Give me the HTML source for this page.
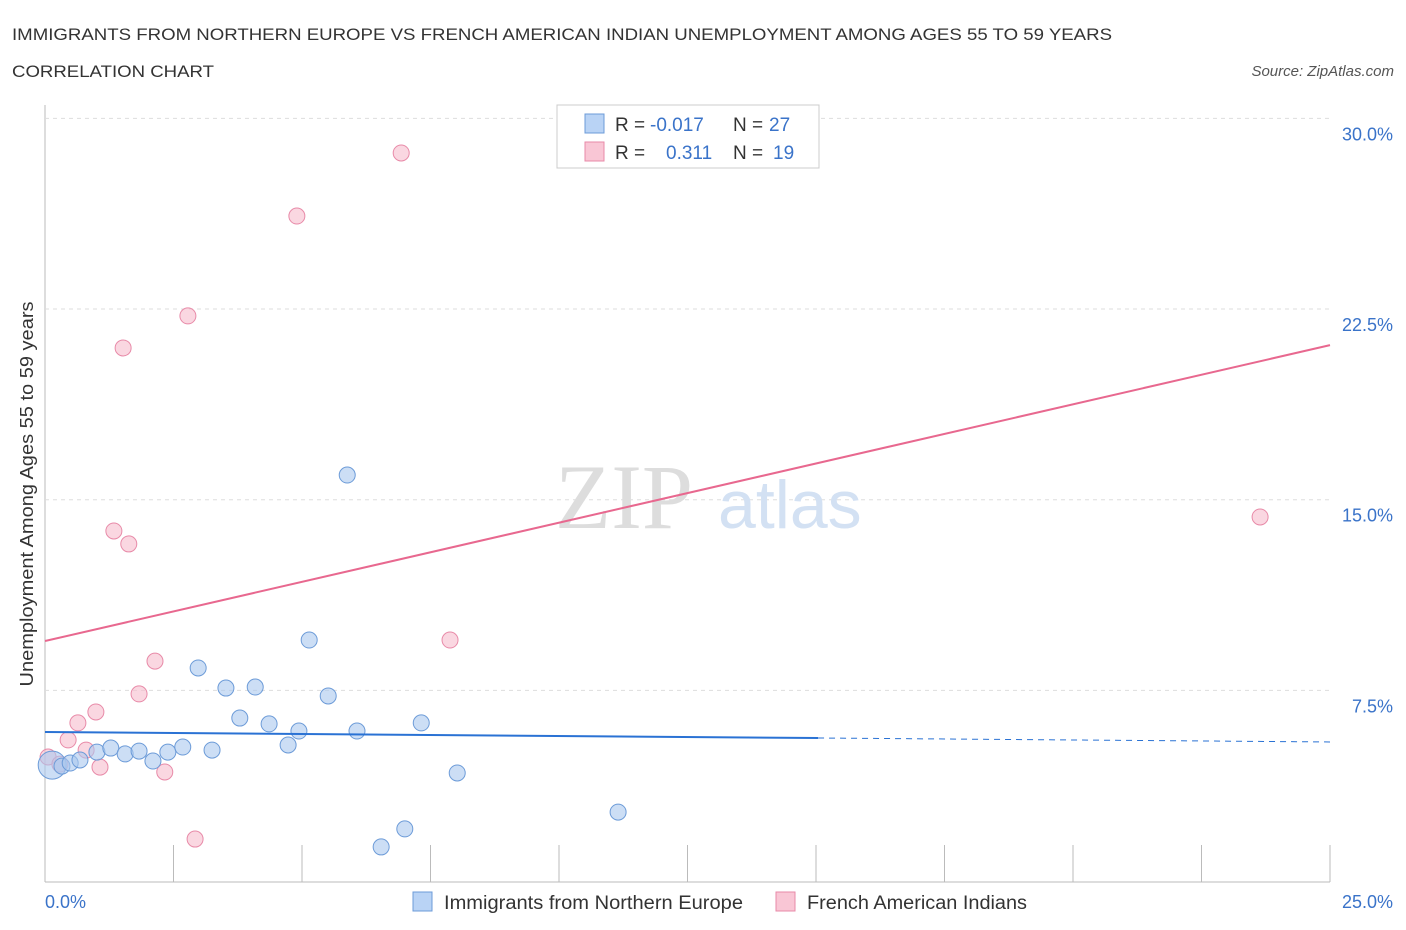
<!DOCTYPE html>
<html><head><meta charset="utf-8"><style>
body{margin:0;background:#fff;font-family:"Liberation Sans",sans-serif;}
svg{display:block}
</style></head><body>
<svg id="c" width="1406" height="930">
<text x="12" y="40" font-size="17" fill="#333" textLength="1100" lengthAdjust="spacingAndGlyphs">IMMIGRANTS FROM NORTHERN EUROPE VS FRENCH AMERICAN INDIAN UNEMPLOYMENT AMONG AGES 55 TO 59 YEARS</text>
<text x="12" y="77" font-size="17" fill="#333" textLength="202" lengthAdjust="spacingAndGlyphs">CORRELATION CHART</text>
<text x="1394" y="76" font-size="15" fill="#555" font-style="italic" text-anchor="end">Source: ZipAtlas.com</text>
<text x="33" y="494" font-size="18" fill="#333" text-anchor="middle" transform="rotate(-90 33 494)" textLength="385" lengthAdjust="spacingAndGlyphs">Unemployment Among Ages 55 to 59 years</text>
<g id="grid"></g>
<text x="555" y="528" font-size="92" fill="#ddd" font-family="Liberation Serif,serif">ZIP</text>
<text x="718" y="528" font-size="68" fill="#d3e1f3">atlas</text>
<g id="marks"></g>
<g>
<rect x="557" y="105" width="262" height="63" fill="#fff" stroke="#ccc"/>
<rect x="585" y="114" width="19" height="19" fill="#b9d3f5" stroke="#6c9bd8"/>
<text x="615" y="131" font-size="19" fill="#333">R =</text>
<text x="650" y="131" font-size="19" fill="#3a73c9">-0.017</text>
<text x="733" y="131" font-size="19" fill="#333">N =</text>
<text x="769" y="131" font-size="19" fill="#3a73c9">27</text>
<rect x="585" y="142" width="19" height="19" fill="#f9c6d5" stroke="#e88aa8"/>
<text x="615" y="159" font-size="19" fill="#333">R =</text>
<text x="666" y="159" font-size="19" fill="#3a73c9">0.311</text>
<text x="733" y="159" font-size="19" fill="#333">N =</text>
<text x="773" y="159" font-size="19" fill="#3a73c9">19</text>
</g>
<g>
<rect x="413" y="892" width="19" height="19" fill="#b9d3f5" stroke="#6c9bd8"/>
<text x="444" y="909" font-size="19" fill="#333" textLength="299" lengthAdjust="spacingAndGlyphs">Immigrants from Northern Europe</text>
<rect x="776" y="892" width="19" height="19" fill="#f9c6d5" stroke="#e88aa8"/>
<text x="807" y="909" font-size="19" fill="#333" textLength="220" lengthAdjust="spacingAndGlyphs">French American Indians</text>
</g>
</svg>
<script>
const blueX=[0.14,0.33,0.49,0.68,1.01,1.28,1.56,1.83,2.10,2.39,2.68,2.98,3.25,3.52,3.79,4.09,4.36,4.73,4.94,5.14,5.51,5.88,6.07,6.54,7.00,7.32,8.02,11.15];
const blueY=[4.56,4.52,4.64,4.76,5.07,5.23,5.0,5.11,4.72,5.07,5.27,8.38,5.15,7.59,6.41,7.63,6.18,5.35,5.90,9.48,7.28,15.97,5.90,1.34,2.05,6.22,4.25,2.71];
const pinkX=[0.06,0.29,0.45,0.64,0.80,0.99,1.07,1.34,1.52,1.63,1.83,2.14,2.33,2.78,2.92,4.90,6.93,7.88,23.64];
const pinkY=[4.88,4.60,5.55,6.22,5.15,6.65,4.48,13.77,20.97,13.26,7.36,8.65,4.29,22.23,1.65,26.16,28.64,9.48,14.32];
const blueTrend=[5.86,5.47];
const pinkTrend=[9.44,21.08];
const yTicks=[7.5,15,22.5,30];
const yTickLabels=["7.5%","15.0%","22.5%","30.0%"];
const xTicks=[0,2.5,5,7.5,10,12.5,15,17.5,20,22.5,25];
const NS="http://www.w3.org/2000/svg";
const sx=v=>45+v*51.4, sy=v=>881-v*25.42;
function mk(t,a,p){const e=document.createElementNS(NS,t);for(const k in a)e.setAttribute(k,a[k]);p.appendChild(e);return e;}
const g=document.getElementById('grid'),m=document.getElementById('marks');
const ax=mk('line',{x1:45,y1:105,x2:45,y2:882,stroke:'#bbb'},g);


const bx=mk('line',{x1:45,y1:882,x2:1330,y2:882,stroke:'#bbb'},g);


yTicks.forEach((v,i)=>{
 const l=mk('line',{x1:45,y1:sy(v),x2:1330,y2:sy(v),stroke:'#ddd','stroke-dasharray':'4,4'},g);
 
 
 const t=mk('text',{x:1393,y:sy(v)+22,'font-size':18,fill:'#3a73c9','text-anchor':'end'},g);
 t.textContent=yTickLabels[i];
 
 
});
xTicks.forEach(v=>{
 const l=mk('line',{x1:sx(v),y1:845,x2:sx(v),y2:882,stroke:'#bbb'},g);
 
 
});
const x0=mk('text',{x:45,y:908,'font-size':18,fill:'#3a73c9'},g);x0.textContent='0.0%';


const x1=mk('text',{x:1393,y:908,'font-size':18,fill:'#3a73c9','text-anchor':'end'},g);x1.textContent='25.0%';


pinkX.forEach((x,i)=>{
 const c=mk('circle',{cx:sx(x),cy:sy(pinkY[i]),r:8,fill:'#f7bccd','fill-opacity':0.6,stroke:'#e88aa8'},m);
 
 
});
blueX.forEach((x,i)=>{
 const c=mk('circle',{cx:sx(x),cy:sy(blueY[i]),r:i==0?14:8,fill:'#aac8ee','fill-opacity':0.6,stroke:'#6c9bd8'},m);
 
 
});
const bAt=x=>blueTrend[0]+(blueTrend[1]-blueTrend[0])*x/25;
const bl=mk('line',{x1:sx(0),y1:sy(bAt(0)),x2:sx(15.04),y2:sy(bAt(15.04)),stroke:'#2a72d4','stroke-width':2},m);


const bd=mk('line',{x1:sx(15.04),y1:sy(bAt(15.04)),x2:sx(25),y2:sy(bAt(25)),stroke:'#2a72d4','stroke-width':1,'stroke-dasharray':'6,5'},m);


const pl=mk('line',{x1:sx(0),y1:sy(pinkTrend[0]),x2:sx(25),y2:sy(pinkTrend[1]),stroke:'#e8688f','stroke-width':2},m);


</script>
</body></html>
